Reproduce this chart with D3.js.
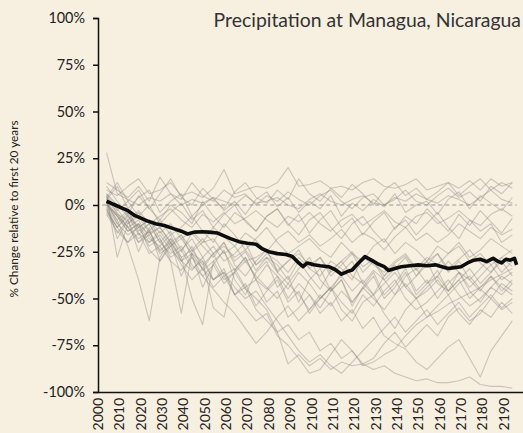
<!DOCTYPE html>
<html>
<head>
<meta charset="utf-8">
<script src="https://cdn.jsdelivr.net/npm/d3@7"></script>
<style>
  html, body { margin: 0; padding: 0; background: #f7efe0; }
  svg { display: block; }
  text { font-family: Lato, "Open Sans", sans-serif; fill: #222; }
</style>
</head>
<body>
<svg id="chart" width="523" height="433"></svg>
<script>
// ---- Data ----
const title = "Precipitation at Managua, Nicaragua";
const yAxisTitle = "% Change relative to first 20 years";
const yTicks = [100, 75, 50, 25, 0, -25, -50, -75, -100];
const xTicks = [2000, 2010, 2020, 2030, 2040, 2050, 2060, 2070, 2080, 2090,
                2100, 2110, 2120, 2130, 2140, 2150, 2160, 2170, 2180, 2190];

// Model ensemble (grey) sampled every 5 years
const modelYears = [2004, 2009, 2014, 2019, 2024, 2029, 2034, 2039, 2044, 2049,
                    2054, 2059, 2064, 2069, 2074, 2079, 2084, 2089, 2094, 2099,
                    2104, 2109, 2114, 2119, 2124, 2129, 2134, 2139, 2144, 2149,
                    2154, 2159, 2164, 2169, 2174, 2179, 2184, 2189, 2194];
const model01 = [8, 5, 10, 14, 6, 8, 12, 5, 7, 4, 9, 19, 6, 8, 10, 9, 12, 20, 10, 11, 13, 9, 10, 8, 12, 14, 10, 9, 11, 14, 8, 10, 12, 9, 13, 8, 14, 10, 12];
const model02 = [28, 6, 3, 0, 4, 2, 6, 0, 3, 1, 4, 2, 0, 5, 1, 2, 4, 0, -2, 3, 6, 2, 0, 3, 5, 1, 0, 4, 2, 6, 3, 1, 5, 3, 0, 4, 8, 3, 1];
const model03 = [5, -5, -8, -3, -10, -6, -2, -8, -12, -5, -9, -4, -10, -7, -3, -8, -12, -6, -9, -4, -10, -14, -8, -5, -11, -7, -3, -9, -12, -6, -4, -10, -7, -3, -8, -11, -5, -2, -6];
const model04 = [2, -10, -4, -12, -8, -15, -10, -18, -14, -20, -12, -17, -22, -15, -19, -25, -18, -14, -20, -16, -22, -18, -13, -20, -15, -18, -24, -17, -12, -19, -15, -20, -16, -10, -14, -18, -12, -16, -13];
const model05 = [0, -8, -22, -40, -62, -28, -18, -25, -15, -22, -28, -20, -30, -25, -35, -28, -32, -40, -30, -38, -45, -35, -30, -38, -42, -35, -40, -48, -38, -34, -42, -38, -30, -36, -44, -38, -32, -40, -36];
const model06 = [6, 0, -6, -12, -8, -18, -30, -58, -25, -20, -18, -26, -22, -30, -28, -24, -35, -30, -26, -32, -28, -36, -30, -25, -33, -29, -38, -31, -27, -35, -30, -26, -34, -29, -24, -31, -36, -28, -33];
const model07 = [4, -2, -10, -6, -15, -12, -20, -28, -50, -64, -30, -25, -35, -28, -40, -32, -38, -45, -36, -42, -50, -44, -38, -46, -40, -48, -42, -36, -44, -50, -46, -40, -48, -42, -38, -45, -50, -42, -46];
const model08 = [-3, -12, -5, -15, -20, -14, -22, -18, -26, -30, -55, -60, -35, -28, -40, -45, -38, -50, -42, -48, -55, -46, -40, -52, -45, -38, -50, -44, -36, -48, -42, -35, -46, -40, -50, -44, -38, -46, -40];
const model09 = [2, -6, -14, -10, -20, -16, -24, -30, -22, -35, -30, -40, -36, -45, -50, -56, -68, -85, -80, -86, -82, -88, -84, -86, -85, -88, -86, -90, -92, -94, -93, -95, -95, -94, -92, -96, -97, -97, -98];
const model10 = [-2, -15, -8, -20, -14, -25, -18, -30, -35, -28, -40, -34, -48, -55, -62, -58, -70, -75, -82, -90, -88, -80, -72, -78, -85, -82, -74, -68, -76, -70, -64, -70, -60, -55, -62, -58, -50, -56, -52];
const model11 = [3, -4, -12, -8, -18, -22, -16, -28, -24, -32, -26, -38, -34, -44, -40, -52, -46, -60, -55, -48, -58, -52, -62, -56, -66, -60, -70, -74, -77, -84, -88, -82, -76, -72, -82, -92, -78, -70, -62];
const model12 = [-1, -10, -16, -12, -22, -18, -28, -24, -34, -30, -40, -36, -48, -44, -56, -62, -68, -64, -72, -68, -78, -74, -82, -78, -86, -84, -80, -77, -70, -64, -60, -57, -53, -50, -47, -44, -40, -37, -34];
const model13 = [1, -8, -3, -14, -10, -20, -26, -22, -32, -38, -45, -52, -58, -66, -74, -68, -60, -54, -62, -56, -48, -54, -46, -52, -44, -50, -56, -48, -42, -50, -44, -38, -46, -40, -34, -42, -36, -30, -38];
const model14 = [0, -6, -12, -18, -14, -24, -20, -30, -26, -34, -40, -36, -44, -50, -46, -54, -62, -70, -78, -84, -80, -86, -90, -84, -78, -72, -66, -60, -68, -62, -56, -64, -58, -52, -60, -54, -48, -55, -50];
const model15 = [1, -6, -14, -10, -16, -12, -20, -16, -24, -18, -26, -22, -28, -24, -32, -26, -30, -36, -28, -34, -38, -30, -34, -40, -28, -32, -36, -30, -26, -34, -28, -32, -26, -22, -30, -26, -32, -28, -24];
const model16 = [10, 2, -5, 5, -2, -8, 0, -4, -10, 2, -6, -12, -4, -8, -14, -6, -2, -10, -16, -8, -4, -12, -18, -10, -6, -14, -20, -12, -8, -16, -10, -4, -12, -18, -8, -14, -10, -20, -16];
const model17 = [12, 8, 4, 10, 2, 15, 6, 3, 12, 5, 2, 8, 4, 6, 0, 5, 2, 7, 3, 0, 5, 8, 2, -2, 4, 6, 0, 3, 8, 2, 0, 5, 9, 4, 7, 2, 10, 6, 12];
const model18 = [-2, -12, -20, -15, -26, -22, -30, -35, -28, -38, -32, -42, -36, -30, -38, -44, -50, -42, -48, -56, -50, -44, -52, -58, -48, -54, -46, -40, -50, -56, -52, -46, -40, -48, -54, -50, -44, -48, -42];
const model19 = [5, -28, -10, -4, -14, -8, -16, -12, -6, -14, -20, -10, -16, -24, -18, -12, -20, -26, -22, -18, -24, -28, -20, -26, -30, -22, -18, -26, -20, -24, -30, -22, -26, -20, -28, -24, -18, -22, -26];
const model20 = [3, 10, -2, 4, 8, -4, 2, 6, -6, 0, 4, -3, 2, -5, 3, 7, -1, 4, -4, 2, -2, 5, -6, 1, -3, 3, -1, 6, -4, 0, 2, -5, 3, 7, -2, 5, 1, -3, 4];
const model21 = [-4, -12, -6, -16, -10, -20, -14, -24, -18, -28, -22, -30, -26, -20, -32, -28, -36, -30, -24, -34, -28, -38, -32, -26, -36, -30, -40, -34, -28, -38, -32, -26, -36, -30, -40, -34, -28, -36, -30];
const model22 = [6, -3, 2, -6, 0, -10, -4, 1, -8, -3, -12, -5, 0, -9, -14, -6, -2, -11, -5, -15, -8, -3, -12, -7, -16, -9, -4, -13, -6, -10, -2, -8, -14, -5, -11, -3, -9, -15, -7];
const model23 = [0, -5, -12, -20, -16, -26, -22, -32, -40, -34, -44, -38, -48, -42, -54, -46, -40, -52, -46, -58, -50, -44, -56, -62, -52, -48, -58, -66, -56, -50, -60, -54, -48, -58, -64, -56, -60, -52, -58];
const model24 = [4, 12, 2, 8, -2, 6, 14, 4, 0, 9, 3, -2, 7, 12, 4, 1, 8, 3, 14, 6, 2, 9, 4, 11, 6, 0, 8, 12, 5, 9, 3, 7, 12, 5, 10, 14, 8, 12, 9];
const model25 = [-5, -14, -20, -10, -24, -30, -22, -16, -28, -34, -26, -20, -32, -38, -30, -24, -36, -42, -34, -28, -40, -46, -36, -30, -42, -48, -38, -32, -44, -38, -30, -42, -46, -36, -40, -46, -38, -44, -48];
const model26 = [2, -18, -8, -25, -12, -30, -20, -38, -26, -44, -32, -24, -40, -48, -36, -30, -44, -38, -52, -40, -34, -46, -40, -54, -44, -36, -48, -42, -34, -46, -40, -50, -42, -36, -46, -52, -44, -38, -42];
const models = [model01, model02, model03, model04, model05, model06, model07, model08, model09, model10,
                model11, model12, model13, model14, model15, model16, model17, model18, model19, model20,
                model21, model22, model23, model24, model25, model26];

// Ensemble mean (black)
const meanYears = [2004, 2006, 2008, 2011, 2014, 2017, 2019, 2023, 2027, 2031,
                   2035, 2039, 2042, 2045, 2049, 2052, 2056, 2059, 2062, 2066,
                   2070, 2074, 2077, 2080, 2084, 2088, 2091, 2094, 2096, 2098,
                   2101, 2104, 2108, 2111, 2114, 2117, 2119, 2122, 2125, 2128,
                   2131, 2134, 2136, 2139, 2142, 2146, 2150, 2154, 2158, 2161,
                   2164, 2167, 2170, 2173, 2176, 2179, 2182, 2185, 2187, 2189,
                   2191, 2193, 2195, 2196];
const meanValues = [2, 1, 0, -1.5, -3, -5.5, -6.5, -8.5, -10, -11,
                    -12.5, -14, -15.5, -14.5, -14.3, -14.5, -15, -16.5, -18, -19.6,
                    -20.5, -21, -23.5, -25, -26, -26.5, -27.5, -31, -33, -31,
                    -32, -32.5, -33, -34.5, -37, -35.5, -34.8, -31, -27.6, -29.5,
                    -31.5, -33, -35, -34, -33, -32.5, -32, -32.5, -32, -33,
                    -34, -33.5, -33, -31, -29.5, -29, -30.3, -28.5, -30, -31,
                    -29, -29.5, -28.5, -32];

const zeroLineYears = [2002, 2196];

// ---- Chart ----
const svg = d3.select("#chart");
const x = d3.scaleLinear().domain([2000, 2199]).range([98, 523]);
const y = d3.scaleLinear().domain([-100, 100]).range([392, 18]);

const defs = svg.append("defs");
defs.append("filter").attr("id", "soft")
  .attr("x", "-5%").attr("y", "-5%").attr("width", "110%").attr("height", "110%")
  .append("feGaussianBlur").attr("stdDeviation", 0.55);

// Title
svg.append("text")
  .attr("x", 521).attr("y", 27)
  .attr("text-anchor", "end")
  .style("font-size", "19.4px")
  .style("fill", "#333")
  .text(title);

// Y axis title
svg.append("text")
  .attr("transform", `translate(18, 209) rotate(-90)`)
  .attr("text-anchor", "middle")
  .style("font-size", "11.8px")
  .style("fill", "#222")
  .text(yAxisTitle);

// zero dashed line
svg.append("line")
  .attr("x1", x(zeroLineYears[0])).attr("x2", x(zeroLineYears[1]))
  .attr("y1", y(0)).attr("y2", y(0))
  .attr("stroke", "#9a958c").attr("stroke-width", 1)
  .attr("stroke-dasharray", "4,3");

// Grey model lines
const line = d3.line().x(d => x(d[0])).y(d => y(d[1]));
const g = svg.append("g").attr("filter", "url(#soft)");
models.forEach(vals => {
  g.append("path")
    .datum(modelYears.map((yr, i) => [yr, vals[i]]))
    .attr("d", line)
    .attr("fill", "none")
    .attr("stroke", "#8c8880")
    .attr("stroke-opacity", 0.42)
    .attr("stroke-width", 1.1)
    .attr("stroke-linejoin", "round");
});

// Mean black line
svg.append("path")
  .datum(meanYears.map((yr, i) => [yr, meanValues[i]]))
  .attr("d", line)
  .attr("fill", "none")
  .attr("stroke", "#111")
  .attr("stroke-width", 3.6)
  .attr("stroke-linejoin", "round")
  .attr("filter", "url(#soft)");

// Y axis
const yAxis = d3.axisLeft(y).tickValues(yTicks).tickSize(5).tickPadding(8)
  .tickFormat(d => d + "%");
const yg = svg.append("g").attr("transform", "translate(98,0)").call(yAxis);
yg.select(".domain").attr("stroke", "#111").attr("stroke-width", 1.5);
yg.selectAll(".tick line").attr("stroke", "#111").attr("stroke-width", 1.5);
yg.selectAll(".tick text").style("font-size", "14.4px").style("font-family", "Lato, 'Open Sans', sans-serif").attr("fill", "#222");

// X axis
const xAxis = d3.axisBottom(x).tickValues(xTicks).tickSize(0).tickFormat(d3.format("d"));
const xg = svg.append("g").attr("transform", "translate(0,392)").call(xAxis);
xg.select(".domain").attr("stroke", "#111").attr("stroke-width", 1.5);
xg.selectAll(".tick text")
  .style("font-size", "14px").style("font-family", "Lato, 'Open Sans', sans-serif")
  .attr("fill", "#222")
  .attr("text-anchor", "end")
  .attr("dy", null)
  .attr("y", 0)
  .attr("transform", "translate(4.5,6) rotate(-90)");
</script>
</body>
</html>
